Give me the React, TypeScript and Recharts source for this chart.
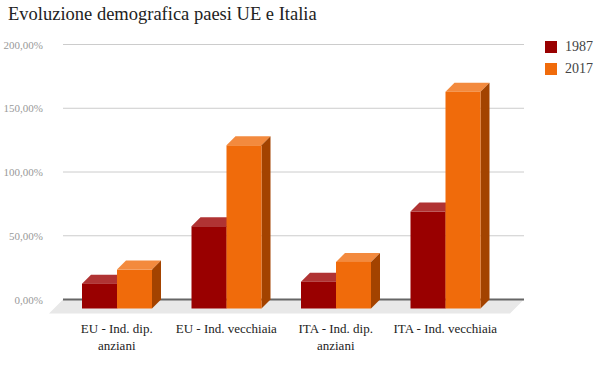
import React from 'react'
import {
  BarChart,
  Bar,
  XAxis,
  YAxis,
  CartesianGrid,
  Legend,
} from 'recharts'

const categories = [
  'EU - Ind. dip. anziani',
  'EU - Ind. vecchiaia',
  'ITA - Ind. dip. anziani',
  'ITA - Ind. vecchiaia',
]
const values1987 = [19.5, 64.5, 21, 76]
const values2017 = [30.5, 128, 36.5, 170]
const yTicks = [0, 50, 100, 150, 200]

const series = [
  { key: 'y1987', name: '1987', front: '#990000', top: '#b03333', side: '#6e0000' },
  { key: 'y2017', name: '2017', front: '#f06b0b', top: '#f38a3e', side: '#a34300' },
]

const data = categories.map((name, i) => ({
  name,
  y1987: values1987[i],
  y2017: values2017[i],
}))

const FONT = '"Liberation Serif", "Times New Roman", serif'
const DEPTH = 9
const ZERO_Y = 299.5

const fmt = (v: number) => v.toFixed(2).replace('.', ',') + '%'

function makeBox(top: string, side: string) {
  return (props: any) => {
    const { x, y, width: w, height: h, fill } = props
    if (w == null || h == null) return null
    const d = DEPTH
    return (
      <g>
        <polygon
          points={`${x - d},${y + d} ${x},${y} ${x + w},${y} ${x + w - d},${y + d}`}
          fill={top}
        />
        <polygon
          points={`${x + w - d},${y + d} ${x + w},${y} ${x + w},${y + h} ${x + w - d},${y + h + d}`}
          fill={side}
        />
        <rect x={x - d} y={y + d} width={w} height={h} fill={fill} />
      </g>
    )
  }
}

// grid lines on the back wall; the zero line also gets the grey floor
function GridLine(props: any) {
  const { x1, y1, x2, y2 } = props
  if (Math.abs(y1 - ZERO_Y) < 2) {
    return (
      <g>
        <polygon
          points={`${x1},${y1} ${x2},${y1} ${x2 - 14},${y1 + 14} ${x1 - 14},${y1 + 14}`}
          fill="#e8e8e8"
        />
        <line x1={x1} y1={y1} x2={x2} y2={y2} stroke="#666" strokeWidth={2} />
      </g>
    )
  }
  return <line x1={x1} y1={y1} x2={x2} y2={y2} stroke="#cccccc" strokeWidth={1} />
}

function XTick(props: any) {
  const { x, y, payload } = props
  const words = String(payload.value).split(' ')
  let lines = [payload.value]
  if (payload.value.includes('anziani')) {
    lines = [words.slice(0, -1).join(' '), words[words.length - 1]]
  }
  return (
    <g>
      {lines.map((l: string, i: number) => (
        <text
          key={i}
          x={x - DEPTH}
          y={y + 25 + i * 17}
          textAnchor="middle"
          fontSize={13}
          fill="#222"
          style={{ fontFamily: FONT }}
        >
          {l}
        </text>
      ))}
    </g>
  )
}

function YTick(props: any) {
  const { y, payload } = props
  return (
    <text x={43} y={y + 4} textAnchor="end" fontSize={11} fill="#999" style={{ fontFamily: FONT }}>
      {fmt(payload.value)}
    </text>
  )
}

function LegendContent() {
  return (
    <div style={{ fontFamily: FONT, fontSize: 14, color: '#444' }}>
      {series.map((s) => (
        <div key={s.key} style={{ display: 'flex', alignItems: 'center', height: 22 }}>
          <span style={{ width: 12, height: 12, background: s.front, display: 'inline-block', marginRight: 8 }} />
          {s.name}
        </div>
      ))}
    </div>
  )
}

export default function App() {
  return (
    <div style={{ position: 'absolute', left: 0, top: 0, width: 610, height: 368, background: '#fff' }}>
      <div
        style={{
          position: 'absolute',
          left: 8,
          top: 4,
          fontFamily: FONT,
          fontSize: 18.5,
          color: '#222',
          whiteSpace: 'nowrap',
        }}
      >
        Evoluzione demografica paesi UE e Italia
      </div>
      <BarChart
        width={610}
        height={368}
        data={data}
        margin={{ top: 44.5, right: 86, bottom: 38.5, left: 0 }}
        barGap={0}
        barSize={35}
      >
        <CartesianGrid vertical={false} horizontal={GridLine as any} />
        <XAxis
          dataKey="name"
          height={30}
          axisLine={false}
          tickLine={false}
          interval={0}
          tick={XTick}
          padding={{ left: 8, right: 15 }}
        />
        <YAxis
          width={63}
          domain={[0, 200]}
          ticks={yTicks}
          axisLine={false}
          tickLine={false}
          tick={YTick}
        />
        <Legend
          layout="vertical"
          verticalAlign="middle"
          align="center"
          content={LegendContent}
          wrapperStyle={{ top: 36, left: 545, width: 60 }}
        />
        {series.map((s) => (
          <Bar
            key={s.key}
            dataKey={s.key}
            name={s.name}
            fill={s.front}
            shape={makeBox(s.top, s.side)}
            isAnimationActive={false}
          />
        ))}
      </BarChart>
    </div>
  )
}
